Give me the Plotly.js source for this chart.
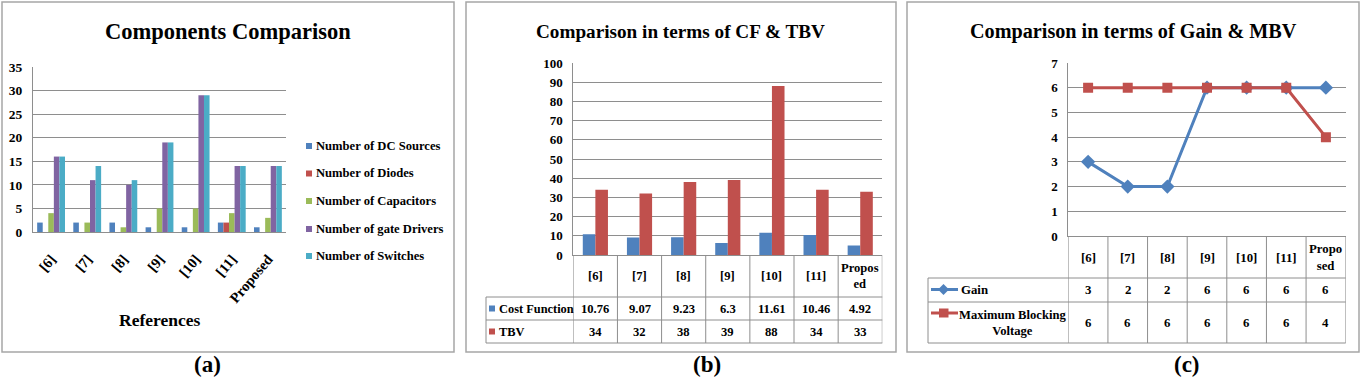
<!DOCTYPE html>
<html><head><meta charset="utf-8">
<script src="https://cdn.plot.ly/plotly-3.0.1.min.js"></script>
<style>html,body{margin:0;padding:0;background:#fff;} #chart{width:1361px;height:391px;}</style>
</head><body><div id="chart"></div>
<script>
// ---------------- data ----------------
const categories = ['[6]','[7]','[8]','[9]','[10]','[11]','Proposed'];

const compSeries = ['Number of DC Sources','Number of Diodes','Number of Capacitors','Number of gate Drivers','Number of Switches'];
const dcSources   = [2,2,2,1,1,2,1];
const diodes      = [0,0,0,0,0,2,0];
const capacitors  = [4,2,1,5,5,4,3];
const gateDrivers = [16,11,10,19,29,14,14];
const switches    = [16,14,11,19,29,14,14];

const cfSeries = ['Cost Function','TBV'];
const costFunction = [10.76,9.07,9.23,6.3,11.61,10.46,4.92];
const tbv          = [34,32,38,39,88,34,33];
const headerB = ['[6]','[7]','[8]','[9]','[10]','[11]','Propos<br>ed'];

const gainSeries = ['Gain','Maximum Blocking<br>Voltage'];
const gain = [3,2,2,6,6,6,6];
const mbv  = [6,6,6,6,6,6,4];
const headerC = ['[6]','[7]','[8]','[9]','[10]','[11]','Propo<br>sed'];

const titles = ['Components Comparison','Comparison in terms of CF & TBV','Comparison in terms of Gain & MBV'];
const xTitleA = 'References';
const panelLabels = ['(a)','(b)','(c)'];

// ---------------- style ----------------
const W = 1361, H = 391;
const px = x => x / W, py = y => 1 - y / H;
const FONT = 'Liberation Serif, Times New Roman, serif';
const GRID = '#8e8e8e', LINE = '#8e8e8e', BORDER = '#a6a6a6';
const compColors = ['#4F81BD','#C0504D','#9BBB59','#8064A2','#4BACC6'];
const f = (size, color) => ({family: FONT, size: size, color: color || '#000', weight: 'bold'});

const compData = [dcSources, diodes, capacitors, gateDrivers, switches];
const traces = [];
compData.forEach((vals, i) => traces.push({
  type: 'bar', x: categories, y: vals, name: compSeries[i], xaxis: 'x', yaxis: 'y',
  marker: {color: compColors[i]}, showlegend: false, hoverinfo: 'none'
}));
const bw = 0.285;
[costFunction, tbv].forEach((vals, i) => traces.push({
  type: 'bar', x: categories, y: vals, name: cfSeries[i], xaxis: 'x2', yaxis: 'y2',
  width: bw, offset: i === 0 ? -bw : 0,
  marker: {color: compColors[i]}, showlegend: false, hoverinfo: 'none'
}));
traces.push({type: 'scatter', mode: 'lines+markers', x: categories, y: gain, name: 'Gain', xaxis: 'x3', yaxis: 'y3',
  line: {color: '#4F81BD', width: 3}, marker: {symbol: 'diamond', size: 11, color: '#4F81BD'}, showlegend: false, hoverinfo: 'none'});
traces.push({type: 'scatter', mode: 'lines+markers', x: categories, y: mbv, name: 'Maximum Blocking Voltage', xaxis: 'x3', yaxis: 'y3',
  line: {color: '#C0504D', width: 3}, marker: {symbol: 'square', size: 10, color: '#C0504D'}, showlegend: false, hoverinfo: 'none'});

const shapes = [];
const annotations = [];
// panel borders
[[2,454],[466,896],[907,1359]].forEach(b => shapes.push({type: 'rect', xref: 'paper', yref: 'paper',
  x0: px(b[0]), x1: px(b[1]), y0: py(352), y1: py(2), line: {color: BORDER, width: 1.5}}));

// titles
[[228, 22.5],[680, 19.2],[1133, 20.2]].forEach((t, i) => annotations.push({xref: 'paper', yref: 'paper',
  x: px(t[0]), y: py(31), xanchor: 'center', yanchor: 'middle', showarrow: false, text: titles[i], font: f(t[1])}));
// panel labels
[207, 707, 1187].forEach((x, i) => annotations.push({xref: 'paper', yref: 'paper', x: px(x), y: py(364),
  xanchor: 'center', yanchor: 'middle', showarrow: false, text: panelLabels[i], font: f(23)}));
// x title (a)
annotations.push({xref: 'paper', yref: 'paper', x: px(159.5), y: py(320), xanchor: 'center', yanchor: 'middle',
  showarrow: false, text: xTitleA, font: f(17.5)});

// legend (a)
const legY = [146, 173.5, 201, 229, 256];
compSeries.forEach((s, i) => {
  shapes.push({type: 'rect', xref: 'paper', yref: 'paper', x0: px(306), x1: px(312), y0: py(legY[i] + 3), y1: py(legY[i] - 3),
    fillcolor: compColors[i], line: {width: 0}});
  annotations.push({xref: 'paper', yref: 'paper', x: px(313.5), y: py(legY[i]), xanchor: 'left', yanchor: 'middle',
    showarrow: false, text: s, font: f(12.6)});
});

// table (b)
for (let k = 0; k <= categories.length; k++) shapes.push({type: 'line', xref: 'x2', yref: 'paper',
  x0: k - 0.5, x1: k - 0.5, y0: py(255), y1: py(343), line: {color: LINE, width: 1}});
shapes.push({type: 'line', xref: 'paper', yref: 'paper', x0: px(486), x1: px(486), y0: py(297), y1: py(343), line: {color: LINE, width: 1}});
[297, 320, 343].forEach(y => shapes.push({type: 'line', xref: 'paper', yref: 'paper', x0: px(486), x1: px(882.3),
  y0: py(y), y1: py(y), line: {color: LINE, width: 1}}));
categories.forEach((c, i) => {
  annotations.push({xref: 'x2', yref: 'paper', x: i, y: py(276), xanchor: 'center', yanchor: 'middle', showarrow: false,
    text: headerB[i], font: f(12.6)});
  annotations.push({xref: 'x2', yref: 'paper', x: i, y: py(308.5), xanchor: 'center', yanchor: 'middle', showarrow: false,
    text: String(costFunction[i]), font: f(12.6)});
  annotations.push({xref: 'x2', yref: 'paper', x: i, y: py(331.5), xanchor: 'center', yanchor: 'middle', showarrow: false,
    text: String(tbv[i]), font: f(12.6)});
});
[308.5, 331.5].forEach((y, i) => {
  shapes.push({type: 'rect', xref: 'paper', yref: 'paper', x0: px(489), x1: px(495), y0: py(y + 3), y1: py(y - 3),
    fillcolor: compColors[i], line: {width: 0}});
  annotations.push({xref: 'paper', yref: 'paper', x: px(497), y: py(y), xanchor: 'left', yanchor: 'middle', showarrow: false,
    text: cfSeries[i], font: f(12.4)});
});

// table (c)
for (let k = 0; k <= categories.length; k++) shapes.push({type: 'line', xref: 'x3', yref: 'paper',
  x0: k - 0.5, x1: k - 0.5, y0: py(236), y1: py(343), line: {color: LINE, width: 1}});
shapes.push({type: 'line', xref: 'paper', yref: 'paper', x0: px(928), x1: px(928), y0: py(278), y1: py(343), line: {color: LINE, width: 1}});
[278, 302, 343].forEach(y => shapes.push({type: 'line', xref: 'paper', yref: 'paper', x0: px(928), x1: px(1345.7),
  y0: py(y), y1: py(y), line: {color: LINE, width: 1}}));
categories.forEach((c, i) => {
  annotations.push({xref: 'x3', yref: 'paper', x: i, y: py(257.5), xanchor: 'center', yanchor: 'middle', showarrow: false,
    text: headerC[i], font: f(12.8)});
  annotations.push({xref: 'x3', yref: 'paper', x: i, y: py(289.5), xanchor: 'center', yanchor: 'middle', showarrow: false,
    text: String(gain[i]), font: f(12.8)});
  annotations.push({xref: 'x3', yref: 'paper', x: i, y: py(322.5), xanchor: 'center', yanchor: 'middle', showarrow: false,
    text: String(mbv[i]), font: f(12.8)});
});
// keys (c)
shapes.push({type: 'line', xref: 'paper', yref: 'paper', x0: px(931), x1: px(958), y0: py(289.5), y1: py(289.5), line: {color: '#4F81BD', width: 3}});
shapes.push({type: 'path', xref: 'paper', yref: 'paper', fillcolor: '#4F81BD', line: {width: 0},
  path: `M${px(943.5)},${py(284)} L${px(949)},${py(289.5)} L${px(943.5)},${py(295)} L${px(938)},${py(289.5)} Z`});
shapes.push({type: 'line', xref: 'paper', yref: 'paper', x0: px(931), x1: px(958), y0: py(313), y1: py(313), line: {color: '#C0504D', width: 3}});
shapes.push({type: 'rect', xref: 'paper', yref: 'paper', x0: px(939), x1: px(948.5), y0: py(317.5), y1: py(308.5),
  fillcolor: '#C0504D', line: {width: 0}});
annotations.push({xref: 'paper', yref: 'paper', x: px(959), y: py(289.5), xanchor: 'left', yanchor: 'middle', showarrow: false,
  text: gainSeries[0], font: f(12.8)});
annotations.push({xref: 'paper', yref: 'paper', x: px(1012), y: py(322.5), xanchor: 'center', yanchor: 'middle', showarrow: false,
  align: 'center', text: gainSeries[1], font: f(12.6)});

const yCommon = {showgrid: true, gridcolor: GRID, gridwidth: 1, zeroline: false, showline: true, linecolor: LINE,
  ticks: '', tickfont: f(13), ticklabelstandoff: 7, fixedrange: true};
const layout = {
  width: W, height: H, margin: {l: 0, r: 0, t: 0, b: 0}, paper_bgcolor: '#fff', plot_bgcolor: '#fff',
  font: {family: FONT}, showlegend: false, barmode: 'group', bargap: 0.23, bargroupgap: 0,
  xaxis: {domain: [px(33), px(286)], anchor: 'y', type: 'category', range: [-0.5, 6.5], showgrid: false, showline: true,
    linecolor: LINE, ticks: '', tickangle: -50, tickfont: f(14.5), ticklabelstandoff: 12, fixedrange: true},
  yaxis: Object.assign({}, yCommon, {domain: [py(232), py(67)], anchor: 'x', range: [0, 35], dtick: 5, tickfont: f(13.5)}),
  xaxis2: {domain: [px(573.3), px(882.3)], anchor: 'y2', type: 'category', range: [-0.5, 6.5], showgrid: false, showline: true,
    linecolor: LINE, showticklabels: false, ticks: '', fixedrange: true},
  yaxis2: Object.assign({}, yCommon, {domain: [py(255), py(63)], anchor: 'x2', range: [0, 100], dtick: 10}),
  xaxis3: {domain: [px(1068.3), px(1345.7)], anchor: 'y3', type: 'category', range: [-0.5, 6.5], showgrid: false, showline: true,
    linecolor: LINE, showticklabels: false, ticks: '', fixedrange: true},
  yaxis3: Object.assign({}, yCommon, {domain: [py(236), py(63)], anchor: 'x3', range: [0, 7], dtick: 1}),
  shapes: shapes, annotations: annotations
};
Plotly.newPlot('chart', traces, layout, {staticPlot: true, displayModeBar: false});
</script>
</body></html>
